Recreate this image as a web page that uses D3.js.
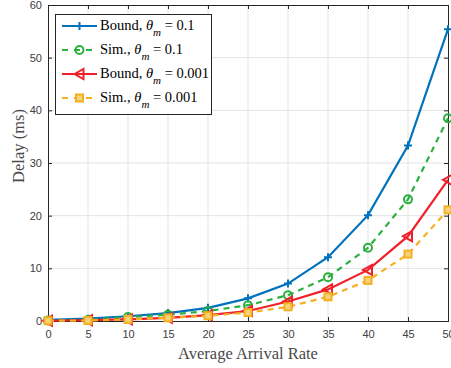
<!DOCTYPE html>
<html>
<head>
<meta charset="utf-8">
<script src="https://cdn.jsdelivr.net/npm/d3@7/dist/d3.min.js"></script>
<style>
  html, body { margin: 0; padding: 0; background: #fff; }
  svg { display: block; }
</style>
</head>
<body>
<svg id="chart" width="451" height="368"></svg>
<script>
// Arrival rates on the x axis
const rates = [0, 5, 10, 15, 20, 25, 30, 35, 40, 45, 50];
// Delay (ms) for each configuration
const boundHigh = [0.2, 0.45, 0.9, 1.5, 2.5, 4.3, 7.1, 12.1, 20.1, 33.3, 55.4];
const simHigh   = [0.1, 0.2, 0.75, 1.2, 1.9, 3.0, 4.9, 8.3, 13.9, 23.1, 38.5];
const boundLow  = [0.05, 0.15, 0.3, 0.6, 1.1, 1.9, 3.7, 6.0, 9.7, 16.1, 26.8];
const simLow    = [0.05, 0.1, 0.3, 0.6, 1.0, 1.6, 2.7, 4.6, 7.7, 12.7, 21.1];
const xTicks = [0, 5, 10, 15, 20, 25, 30, 35, 40, 45, 50];
const yTicks = [0, 10, 20, 30, 40, 50, 60];
const seriesNames = ["Bound, ", "Sim., ", "Bound, ", "Sim., "];
const thetaValues = ["0.1", "0.1", "0.001", "0.001"];

const series = [
  { name: seriesNames[0], theta: thetaValues[0], values: boundHigh, color: "#0072BD", dash: null, marker: "plus" },
  { name: seriesNames[1], theta: thetaValues[1], values: simHigh, color: "#2BB040", dash: "6,5", marker: "circle" },
  { name: seriesNames[2], theta: thetaValues[2], values: boundLow, color: "#F0202A", dash: null, marker: "triangle" },
  { name: seriesNames[3], theta: thetaValues[3], values: simLow, color: "#F5B021", dash: "6,5", marker: "square" }
];

const svg = d3.select("#chart");
const plotL = 48, plotR = 448, plotT = 5, plotB = 321;
const x = d3.scaleLinear().domain([0, 50]).range([plotL, plotR]);
const y = d3.scaleLinear().domain([0, 60]).range([plotB, plotT]);
const serif = "'Liberation Serif', 'Times New Roman', serif";

// grid
const grid = svg.append("g");
grid.selectAll("line.vx").data(xTicks.slice(1, -1)).enter().append("line")
  .attr("x1", d => x(d)).attr("x2", d => x(d)).attr("y1", plotT).attr("y2", plotB)
  .attr("stroke", "#e3e3e3").attr("stroke-width", 1);
grid.selectAll("line.hy").data(yTicks.slice(1, -1)).enter().append("line")
  .attr("y1", d => y(d)).attr("y2", d => y(d)).attr("x1", plotL).attr("x2", plotR)
  .attr("stroke", "#e3e3e3").attr("stroke-width", 1);

// axes
const tickFont = "'Liberation Sans', Arial, sans-serif";
const xAxis = svg.append("g").attr("transform", `translate(0,${plotB})`)
  .call(d3.axisBottom(x).tickValues(xTicks).tickSize(-4).tickPadding(9));
const yAxis = svg.append("g").attr("transform", `translate(${plotL},0)`)
  .call(d3.axisLeft(y).tickValues(yTicks).tickSize(-4).tickPadding(6));
const xTop = svg.append("g").attr("transform", `translate(0,${plotT})`)
  .call(d3.axisTop(x).tickValues(xTicks).tickSize(-4).tickFormat(""));
const yRight = svg.append("g").attr("transform", `translate(${plotR},0)`)
  .call(d3.axisRight(y).tickValues(yTicks).tickSize(-4).tickFormat(""));
[xAxis, yAxis, xTop, yRight].forEach(g => {
  g.selectAll("path").attr("stroke", "#262626").attr("stroke-width", 1);
  g.selectAll("line").attr("stroke", "#262626");
  g.selectAll("text").attr("fill", "#404040").style("font-family", tickFont).style("font-size", "11px");
});

// axis titles
svg.append("text").attr("x", (plotL + plotR) / 2).attr("y", 359)
  .attr("text-anchor", "middle").attr("fill", "#4a4a4a")
  .style("font-family", serif).style("font-size", "16.5px")
  .text("Average Arrival Rate");
svg.append("text").attr("transform", "translate(24,146) rotate(-90)")
  .attr("text-anchor", "middle").attr("fill", "#4a4a4a")
  .style("font-family", serif).style("font-size", "16.5px")
  .text("Delay (ms)");

// markers
function drawMarker(g, type, cx, cy, color) {
  if (type === "plus") {
    g.append("path").attr("d", `M${cx - 4},${cy}H${cx + 4}M${cx},${cy - 4}V${cy + 4}`)
      .attr("stroke", color).attr("stroke-width", 2).attr("fill", "none");
  } else if (type === "circle") {
    g.append("circle").attr("cx", cx).attr("cy", cy).attr("r", 4)
      .attr("stroke", color).attr("stroke-width", 2).attr("fill", "none");
  } else if (type === "triangle") {
    g.append("path").attr("d", `M${cx - 5},${cy}L${cx + 4},${cy - 5}L${cx + 4},${cy + 5}Z`)
      .attr("stroke", color).attr("stroke-width", 2).attr("fill", "none");
  } else if (type === "square") {
    g.append("rect").attr("x", cx - 3.5).attr("y", cy - 3.5).attr("width", 7).attr("height", 7)
      .attr("stroke", color).attr("stroke-width", 2).attr("fill", "#f8d27a");
  }
}

const line = d3.line().x((d, i) => x(rates[i])).y(d => y(d));
// series in plotting order; later ones overlap earlier ones
series.forEach(s => {
  const g = svg.append("g");
  g.append("path").datum(s.values).attr("d", line)
    .attr("fill", "none").attr("stroke", s.color).attr("stroke-width", 2.2)
    .attr("stroke-dasharray", s.dash);
  s.values.forEach((v, i) => drawMarker(g, s.marker, x(rates[i]), y(v), s.color));
});

// legend
const lg = svg.append("g");
lg.append("rect").attr("x", 55.5).attr("y", 14.5).attr("width", 156).attr("height", 100)
  .attr("fill", "#fff").attr("stroke", "#262626").attr("stroke-width", 1);
const rowY = [26, 50, 74, 98];
series.forEach((s, i) => {
  const yy = rowY[i];
  lg.append("line").attr("x1", 62).attr("x2", 97).attr("y1", yy).attr("y2", yy)
    .attr("stroke", s.color).attr("stroke-width", 2.2).attr("stroke-dasharray", s.dash ? "6,6" : null);
  drawMarker(lg, s.marker, 79.5, yy, s.color);
  const t = lg.append("text").attr("x", 100).attr("y", yy + 4).attr("fill", "#000")
    .style("font-family", serif).style("font-size", "14.5px");
  t.append("tspan").text(s.name);
  t.append("tspan").style("font-style", "italic").text("θ");
  t.append("tspan").attr("dy", 6).style("font-style", "italic").style("font-size", "11px").text("m");
  t.append("tspan").attr("dy", -6).text(" = " + s.theta);
});
</script>
</body>
</html>
